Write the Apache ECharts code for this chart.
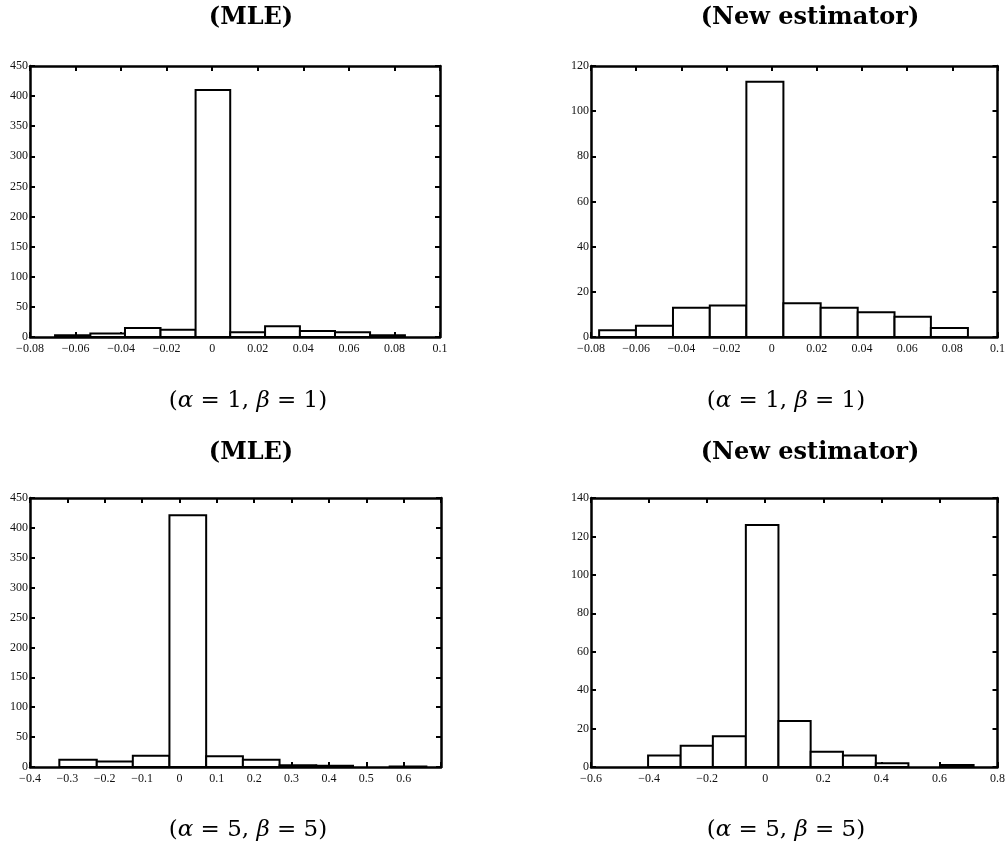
<!DOCTYPE html>
<html>
<head>
<meta charset="utf-8">
<script src="https://cdn.jsdelivr.net/npm/echarts@6/dist/echarts.min.js"></script>
<style>
html,body{margin:0;padding:0;background:#fff;}
#c{width:1008px;height:851px;}
</style>
</head>
<body>
<div id="c"></div>
<script>
// ---- Data ----
const titles = ['(MLE)', '(New estimator)', '(MLE)', '(New estimator)'];
const subtitles = ['1', '1', '5', '5'];

// Panel 1: MLE, alpha=1, beta=1
const mle1Edges = [-0.0690, -0.0535, -0.0383, -0.0227, -0.0073, 0.0079, 0.0232, 0.0385, 0.0539, 0.0693, 0.0846];
const mle1Counts = [3, 6, 15, 12, 410, 8, 18, 10, 8, 3];
// Panel 2: New estimator, alpha=1, beta=1
const new1Edges = [-0.0764, -0.0601, -0.0437, -0.0274, -0.0112, 0.0052, 0.0217, 0.0381, 0.0544, 0.0705, 0.0869];
const new1Counts = [3, 5, 13, 14, 113, 15, 13, 11, 9, 4];
// Panel 3: MLE, alpha=5, beta=5
const mle5Edges = [-0.3215, -0.2213, -0.1248, -0.0268, 0.0715, 0.1698, 0.2679, 0.3662, 0.4645, 0.5626, 0.6609];
const mle5Counts = [12, 9, 19, 421, 18, 12, 3, 2, 0, 1];
// Panel 4: New estimator, alpha=5, beta=5
const new5Edges = [-0.4034, -0.2912, -0.1803, -0.0667, 0.0456, 0.1565, 0.2677, 0.3810, 0.4932, 0.6044, 0.7177];
const new5Counts = [6, 11, 16, 126, 24, 8, 6, 2, 0, 1];

// Axis ranges / ticks
const xMins = [-0.08, -0.08, -0.4, -0.6];
const xMaxs = [0.1, 0.1, 0.7, 0.8];
const xSteps = [0.02, 0.02, 0.1, 0.2];
const xHiddenLabels = [[], [], [0.7], []];
const yMaxs = [450, 120, 450, 140];
const ySteps = [50, 20, 50, 20];

// ---- Layout ----
const grids = [
  {left: 30, top: 66, width: 410, height: 271},
  {left: 591, top: 66, width: 409, height: 271},
  {left: 30, top: 498, width: 411, height: 269},
  {left: 591, top: 498, width: 408, height: 269}
];
const titlePos = [[251, 18], [810, 18], [251, 453], [810, 453]];
const subPos = [[248, 401], [786, 401], [248, 830], [786, 830]];

const edgesAll = [mle1Edges, new1Edges, mle5Edges, new5Edges];
const countsAll = [mle1Counts, new1Counts, mle5Counts, new5Counts];

const tickFont = {fontFamily: '"Liberation Serif", serif', fontSize: 12, color: '#111'};

function fmtX(hidden) {
  return function (v) {
    for (const h of hidden) if (Math.abs(v - h) < 1e-9) return '';
    let s = String(+(+v).toFixed(4));
    return s.replace('-', '\u2212');
  };
}

const xAxes = [], yAxes = [], series = [], graphic = [];
for (let i = 0; i < 4; i++) {
  const common = {
    type: 'value', gridIndex: i, min: xMins[i], max: xMaxs[i], interval: xSteps[i],
    splitLine: {show: false},
    axisLine: {show: true, onZero: false, lineStyle: {color: '#000', width: 2.5}},
    axisTick: {show: true, inside: true, length: 5, lineStyle: {color: '#000', width: 2}}
  };
  xAxes.push(Object.assign({}, common, {
    position: 'bottom',
    axisLabel: Object.assign({show: true, margin: 6, formatter: fmtX(xHiddenLabels[i]), showMinLabel: true, showMaxLabel: true}, tickFont)
  }));
  xAxes.push(Object.assign({}, common, {
    position: 'top', axisLabel: {show: false}
  }));
  const ycommon = {
    type: 'value', gridIndex: i, min: 0, max: yMaxs[i], interval: ySteps[i],
    splitLine: {show: false},
    axisLine: {show: true, onZero: false, lineStyle: {color: '#000', width: 2.5}},
    axisTick: {show: true, inside: true, length: 5, lineStyle: {color: '#000', width: 2}}
  };
  yAxes.push(Object.assign({}, ycommon, {
    position: 'left',
    axisLabel: Object.assign({show: true, margin: 2, showMinLabel: true, showMaxLabel: true}, tickFont)
  }));
  yAxes.push(Object.assign({}, ycommon, {
    position: 'right', axisLabel: {show: false}
  }));

  const edges = edgesAll[i], counts = countsAll[i];
  const data = [];
  for (let k = 0; k < counts.length; k++) {
    if (counts[k] > 0) data.push([edges[k], edges[k + 1], counts[k]]);
  }
  series.push({
    type: 'custom',
    xAxisIndex: 2 * i,
    yAxisIndex: 2 * i,
    encode: {x: [0, 1], y: 2},
    data: data,
    z: 1,
    renderItem: function (params, api) {
      const p0 = api.coord([api.value(0), api.value(2)]);
      const p1 = api.coord([api.value(1), 0]);
      return {
        type: 'rect',
        shape: {x: p0[0], y: p0[1], width: p1[0] - p0[0], height: p1[1] - p0[1]},
        style: {fill: '#fff', stroke: '#000', lineWidth: 2}
      };
    }
  });

  graphic.push({
    type: 'text', x: titlePos[i][0], y: titlePos[i][1],
    style: {text: titles[i], fill: '#000', align: 'center', verticalAlign: 'middle',
      font: 'bold 24px "DejaVu Serif", serif'}
  });
  graphic.push({
    type: 'text', x: subPos[i][0], y: subPos[i][1],
    style: {
      text: '({a|\u03b1} = ' + subtitles[i] + ', {a|\u03b2} = ' + subtitles[i] + ')',
      fill: '#000', align: 'center', verticalAlign: 'middle',
      font: '23px "DejaVu Serif", serif',
      rich: {a: {fontStyle: 'italic', fontSize: 23, fontFamily: '"DejaVu Serif", serif', fill: '#000'}}
    }
  });
}

const chart = echarts.init(document.getElementById('c'), null, {renderer: 'canvas'});
chart.setOption({
  animation: false,
  backgroundColor: '#fff',
  grid: grids.map(g => Object.assign({containLabel: false}, g)),
  xAxis: xAxes,
  yAxis: yAxes,
  series: series,
  graphic: graphic
});
</script>
</body>
</html>
